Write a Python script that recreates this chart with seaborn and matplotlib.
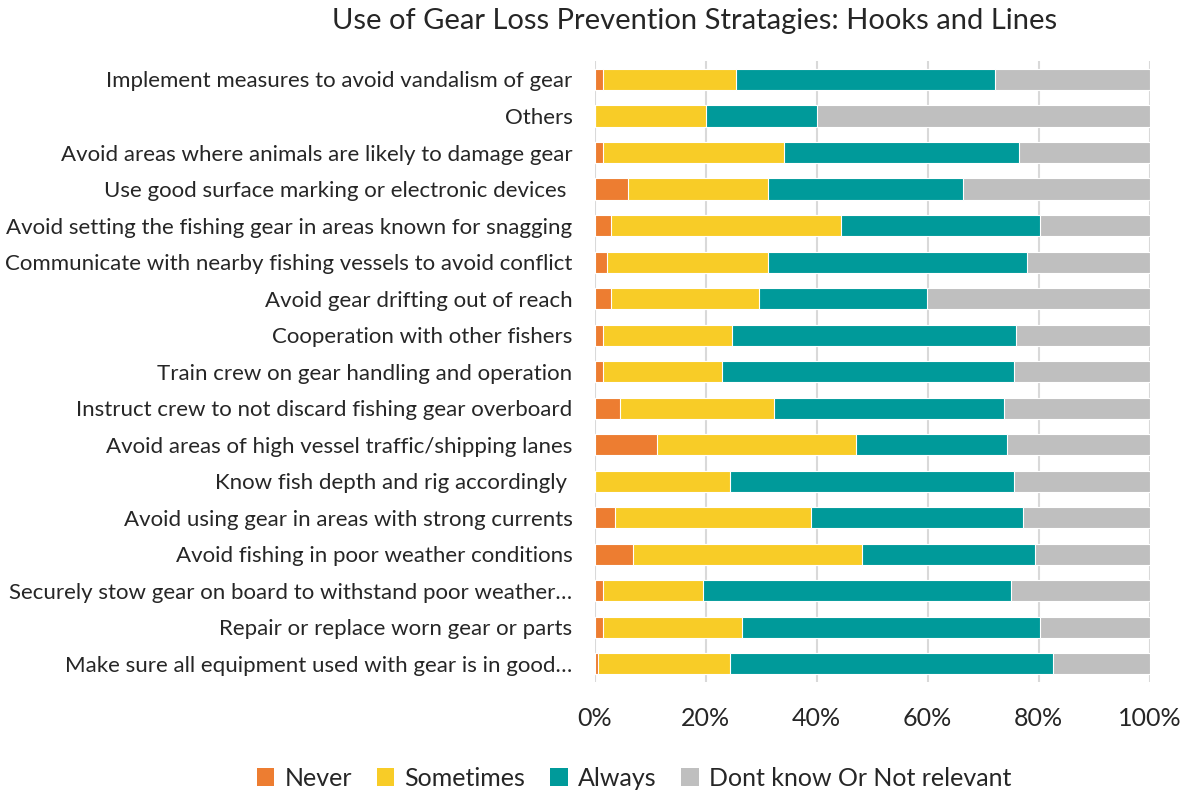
import matplotlib
matplotlib.use("Agg")
import matplotlib.pyplot as plt
import seaborn as sns
import pandas as pd
import numpy as np
from matplotlib.patches import Patch

strategies = [
    "Implement measures to avoid vandalism of gear",
    "Others",
    "Avoid areas where animals are likely to damage gear",
    "Use good surface marking or electronic devices ",
    "Avoid setting the fishing gear in areas known for snagging",
    "Communicate with nearby fishing vessels to avoid conflict",
    "Avoid gear drifting out of reach",
    "Cooperation with other fishers",
    "Train crew on gear handling and operation",
    "Instruct crew to not discard fishing gear overboard",
    "Avoid areas of high vessel traffic/shipping lanes",
    "Know fish depth and rig accordingly ",
    "Avoid using gear in areas with strong currents",
    "Avoid fishing in poor weather conditions",
    "Securely stow gear on board to withstand poor weather\u2026",
    "Repair or replace worn gear or parts",
    "Make sure all equipment used with gear is in good\u2026",
]

never = [1.5, 0, 1.5, 6.0, 2.9, 2.2, 2.9, 1.5, 1.5, 4.5, 11.2, 0, 3.7, 6.9, 1.5, 1.5, 0.7]
sometimes = [24.0, 20.0, 32.6, 25.2, 41.4, 29.0, 26.7, 23.3, 21.4, 27.8, 35.8, 24.4, 35.2, 41.2, 18.1, 25.0, 23.6]
always = [46.6, 20.0, 42.4, 35.2, 35.9, 46.7, 30.3, 51.1, 52.6, 41.5, 27.3, 51.2, 38.2, 31.3, 55.4, 53.8, 58.3]
dont_know = [27.9, 60.0, 23.5, 33.6, 19.8, 22.1, 40.1, 24.1, 24.5, 26.2, 25.7, 24.4, 22.9, 20.6, 25.0, 19.7, 17.4]

series = ["Never", "Sometimes", "Always", "Dont know Or Not relevant"]
colors = ["#ED7D31", "#F8CC27", "#009A9A", "#BFBFBF"]

df = pd.DataFrame({"Strategy": strategies, "Never": never, "Sometimes": sometimes,
                   "Always": always, "Dont know Or Not relevant": dont_know})
cum = df[series].cumsum(axis=1)

sns.set_style("white")
plt.rcParams["font.family"] = ["Lato", "DejaVu Sans"]

fig = plt.figure(figsize=(11.94, 7.95), dpi=100)
ax = fig.add_axes([0.498, 0.142, 0.465, 0.781])

# draw cumulative totals from the longest down so each layer shows its own segment
for name, col in reversed(list(zip(series, colors))):
    sns.barplot(x=cum[name], y=df["Strategy"], color=col, orient="h", saturation=1,
                width=0.58, edgecolor="white", linewidth=0.8, ax=ax, zorder=3)

ax.set_xlim(0, 100)
ax.set_xticks([0, 20, 40, 60, 80, 100])
ax.set_xticklabels([f"{t}%" for t in range(0, 101, 20)], fontsize=18)
ax.xaxis.grid(True, color="#d9d9d9", linewidth=1.5, zorder=0)
ax.set_axisbelow(True)
for s in ax.spines.values():
    s.set_visible(False)
ax.tick_params(axis="x", length=0, pad=18)
ax.tick_params(axis="y", length=0, pad=16, labelsize=16)
ax.set_xlabel("")
ax.set_ylabel("")

fig.suptitle("Use of Gear Loss Prevention Stratagies: Hooks and Lines",
             x=0.582, y=0.99, va="top", fontsize=21)

handles = [Patch(facecolor=c, edgecolor="none") for c in colors]
fig.legend(handles, series, loc="center", bbox_to_anchor=(0.531, 0.021), ncol=4,
           frameon=False, fontsize=18, handlelength=0.7, handleheight=0.7,
           handletextpad=0.4, columnspacing=1.0)

fig.savefig("out.png", dpi=100)
